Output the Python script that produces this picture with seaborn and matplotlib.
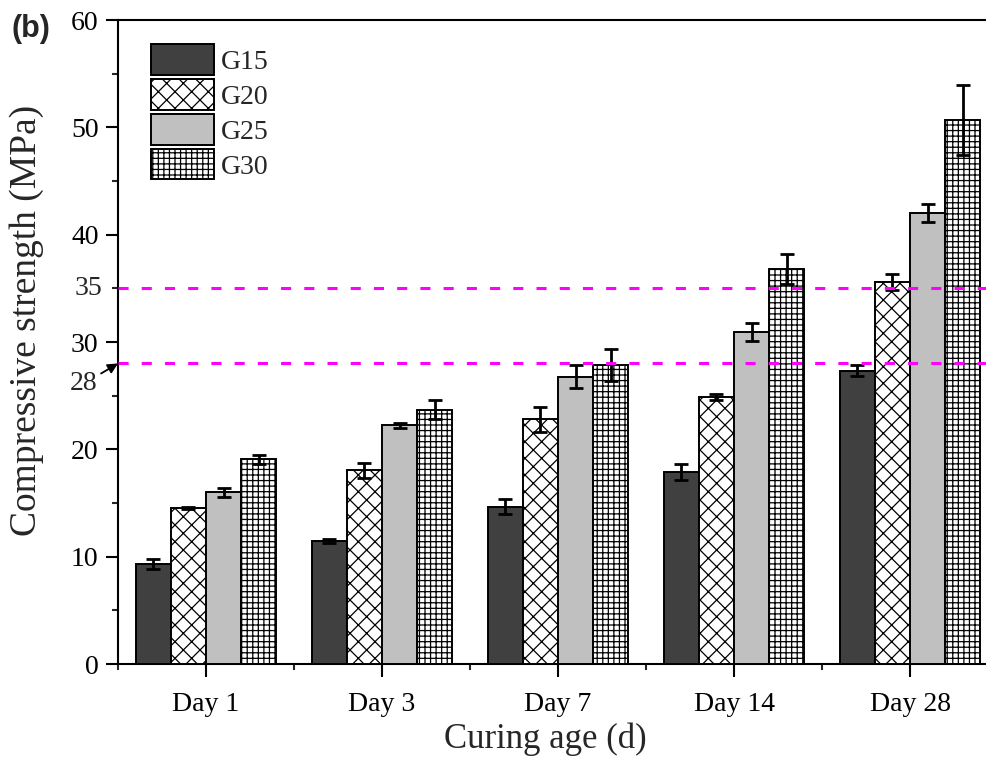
import matplotlib
matplotlib.use("Agg")
import matplotlib.pyplot as plt
import numpy as np
import pandas as pd
import seaborn as sns
from matplotlib.ticker import MultipleLocator, FixedLocator
from matplotlib.patches import Patch

# ---- data ----
ages = ["Day 1", "Day 3", "Day 7", "Day 14", "Day 28"]
mixes = ["G15", "G20", "G25", "G30"]

g15 = [9.32, 11.49, 14.66, 17.86, 27.33]
g20 = [14.50, 18.07, 22.80, 24.90, 35.62]
g25 = [16.00, 22.24, 26.77, 30.96, 41.99]
g30 = [19.07, 23.70, 27.86, 36.80, 50.68]

g15_err = [0.50, 0.18, 0.67, 0.75, 0.54]
g20_err = [0.10, 0.70, 1.18, 0.30, 0.75]
g25_err = [0.40, 0.23, 1.10, 0.84, 0.85]
g30_err = [0.40, 0.87, 1.45, 1.38, 3.26]

ref_levels = [28, 35]

fill_colors = ["#404040", "#ffffff", "#c0c0c0", "#ffffff"]
hatches = ["", "xx", "", "+++"]

means = {"G15": g15, "G20": g20, "G25": g25, "G30": g30}
errs = {"G15": g15_err, "G20": g20_err, "G25": g25_err, "G30": g30_err}

rows = []
for m in mixes:
    for a, v, e in zip(ages, means[m], errs[m]):
        rows.append({"age": a, "mix": m, "strength": v, "err": e})
df = pd.DataFrame(rows)

# ---- style ----
sns.set_style("ticks")
plt.rcParams["font.family"] = ["Liberation Serif", "DejaVu Serif"]
plt.rcParams["hatch.linewidth"] = 0.9
plt.rcParams["hatch.color"] = "black"

fig = plt.figure(figsize=(9.86, 7.62), dpi=100)
ax = fig.add_axes([118 / 986, 1 - 664 / 762, (998 - 118) / 986, (664 - 20) / 762])

sns.barplot(data=df, x="age", y="strength", hue="mix", order=ages,
            hue_order=mixes, palette=fill_colors, errorbar=None,
            edgecolor="black", linewidth=1.4, saturation=1.0,
            width=0.8, ax=ax, legend=False, zorder=3)

# hatches and error bars, one container per mix
for cont, m, h, fc in zip(ax.containers, mixes, hatches, fill_colors):
    xs = []
    for bar in cont:
        bar.set_hatch(h)
        bar.set_facecolor(fc)
        bar.set_edgecolor("black")
        xs.append(bar.get_x() + bar.get_width() / 2)
    ax.errorbar(xs, means[m], yerr=errs[m], fmt="none", ecolor="black",
                elinewidth=2.0, capsize=4.8, capthick=2.0, zorder=5)

# reference strength lines
for lv in ref_levels:
    ax.axhline(lv, color="#ff00ff", lw=2.2, linestyle=(0, (3.3, 4.3)), zorder=6)

# axes
ax.set_xlim(-0.5, 4.5)
ax.set_ylim(0, 60)
ax.yaxis.set_major_locator(MultipleLocator(10))
ax.yaxis.set_minor_locator(MultipleLocator(5))
ax.xaxis.set_minor_locator(FixedLocator(np.arange(-0.5, 4.6, 1.0)))
ax.tick_params(axis="both", which="major", direction="out", length=9,
               width=1.5, labelsize=20, colors="black")
ax.tick_params(axis="both", which="minor", direction="out", length=4.5,
               width=1.5)
ax.tick_params(axis="x", which="major", pad=11)
ax.tick_params(axis="y", which="major", pad=5)
for sp in ax.spines.values():
    sp.set_visible(True)
    sp.set_linewidth(1.5)
    sp.set_color("black")

ax.set_xlabel("Curing age (d)", fontsize=25)
ax.set_ylabel("Compressive strength (MPa)", fontsize=27)
ax.xaxis.set_label_coords(0.486, -0.091)
ax.yaxis.set_label_coords(-0.084, 0.534)

# extra labels for the reference levels
ax.annotate("35", xy=(0, 35), xycoords=("axes fraction", "data"),
            xytext=(-11.5, 0), textcoords="offset points",
            ha="right", va="center", fontsize=20)
ax.annotate("28", xy=(0, 28), xycoords=("axes fraction", "data"),
            xytext=(-24.5, -14.5), textcoords="offset points",
            ha="center", va="center", fontsize=20,
            arrowprops=dict(arrowstyle="-|>", color="black", lw=1.3,
                            mutation_scale=15, shrinkA=0, shrinkB=0))

# legend
handles = [Patch(facecolor=fc, edgecolor="black", hatch=h, linewidth=1.4)
           for fc, h in zip(fill_colors, hatches)]
ax.legend(handles, mixes, loc="upper left", bbox_to_anchor=(0.038, 0.962),
          frameon=False, fontsize=20, handlelength=2.25, handleheight=1.3,
          handletextpad=0.25, labelspacing=0.16, borderpad=0,
          borderaxespad=0)

fig.text(0.012, 0.982, "(b)", fontsize=22, fontweight="bold",
         family=["Liberation Sans", "DejaVu Sans"], ha="left", va="top")

fig.savefig("out.png", dpi=100)
